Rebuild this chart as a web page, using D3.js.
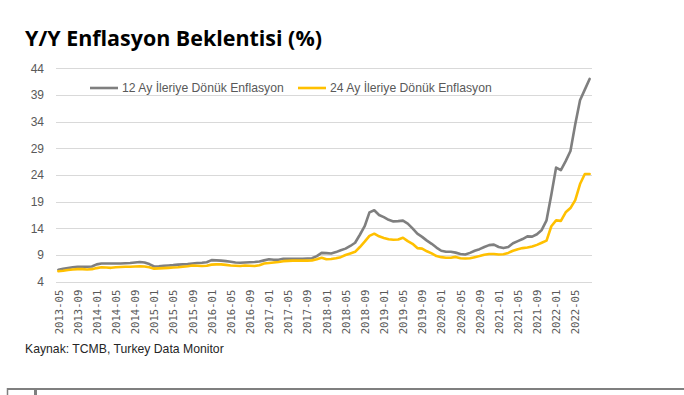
<!DOCTYPE html>
<html>
<head>
<meta charset="utf-8">
<script src="https://cdn.jsdelivr.net/npm/d3@7"></script>
<style>
	body { margin: 0; background: #fff; }
	svg { display: block; }
</style>
</head>
<body>
<svg id="chart" width="684" height="395"></svg>
<script>
// monthly, 2013-05 .. 2022-08
var firstMonth = new Date(2013, 4, 1);
var lastMonth = new Date(2022, 7, 1);

var series12 = [
	6.25, 6.4, 6.55, 6.7, 6.8, 6.8, 6.8, 6.85,
	7.25, 7.4, 7.4, 7.4, 7.4, 7.4, 7.45, 7.5, 7.6, 7.7, 7.6, 7.3,
	6.85, 6.9, 7.0, 7.05, 7.1, 7.2, 7.25, 7.3, 7.4, 7.5, 7.55, 7.65,
	8.05, 8.0, 7.95, 7.85, 7.75, 7.6, 7.55, 7.6, 7.65, 7.7, 7.8, 8.0,
	8.2, 8.1, 8.1, 8.3, 8.3, 8.3, 8.3, 8.3, 8.35, 8.4, 8.8, 9.4,
	9.35, 9.3, 9.55, 9.9, 10.2, 10.7, 11.3, 12.8, 14.4, 17.0, 17.4, 16.5,
	16.1, 15.6, 15.3, 15.35, 15.45, 14.9, 14.0, 13.0, 12.4, 11.7, 11.1, 10.4,
	9.8, 9.6, 9.6, 9.45, 9.2, 9.1, 9.4, 9.8, 10.1, 10.5, 10.85, 10.95,
	10.5, 10.3, 10.5, 11.2, 11.6, 12.0, 12.5, 12.45, 12.9, 13.7, 15.5, 20.3,
	25.4, 24.9, 26.6, 28.5, 33.5, 38.0, 40.0, 42.0
];

var series24 = [
	5.95, 6.05, 6.2, 6.3, 6.35, 6.35, 6.3, 6.35,
	6.55, 6.7, 6.65, 6.6, 6.7, 6.75, 6.8, 6.8, 6.85, 6.9, 6.85, 6.7,
	6.45, 6.5, 6.55, 6.6, 6.65, 6.7, 6.8, 6.9, 7.05, 7.0, 6.95, 7.0,
	7.2, 7.25, 7.25, 7.15, 7.05, 7.0, 6.95, 7.05, 7.0, 6.95, 7.1, 7.4,
	7.5, 7.6, 7.7, 7.85, 7.9, 7.95, 7.95, 7.95, 7.95, 8.0, 8.2, 8.5,
	8.2, 8.25, 8.4, 8.6, 9.0, 9.3, 9.6, 10.5, 11.5, 12.6, 13.0, 12.5,
	12.2, 11.95, 11.85, 11.9, 12.25, 11.6, 11.1, 10.3, 10.2, 9.7, 9.3, 8.8,
	8.6, 8.5, 8.5, 8.65, 8.4, 8.35, 8.4, 8.6, 8.8, 9.05, 9.2, 9.2,
	9.1, 9.15, 9.4, 9.8, 10.1, 10.3, 10.4, 10.6, 10.9, 11.3, 11.7, 14.4,
	15.5, 15.4, 17.0, 17.8, 19.3, 22.3, 24.2, 24.2
];

var seriesNames = ["12 Ay İleriye Dönük Enflasyon", "24 Ay İleriye Dönük Enflasyon"];
var seriesColors = ["#7f7f7f", "#ffc000"];

var yTicks = [4, 9, 14, 19, 24, 29, 34, 39, 44];
var xTickLabels = [
	"2013-05", "2013-09", "2014-01", "2014-05", "2014-09", "2015-01", "2015-05", "2015-09",
	"2016-01", "2016-05", "2016-09", "2017-01", "2017-05", "2017-09", "2018-01", "2018-05",
	"2018-09", "2019-01", "2019-05", "2019-09", "2020-01", "2020-05", "2020-09", "2021-01",
	"2021-05", "2021-09", "2022-01", "2022-05"
];

var fmt = d3.timeFormat("%Y-%m");
var months = d3.timeMonth.range(firstMonth, d3.timeMonth.offset(lastMonth, 1)).map(fmt);

var svg = d3.select("#chart");
var plot = {left: 56, right: 592, top: 68.3, bottom: 281.7};

var x = d3.scalePoint()
	.domain(months)
	.range([plot.left, plot.right])
	.padding(0.5);

var y = d3.scaleLinear()
	.domain([4, 44])
	.range([plot.bottom, plot.top]);

// fit a text node into a given width by shrinking/growing the font
var fitText = function(sel, width) {
	var node = sel.node();
	var size = parseFloat(sel.style("font-size"));
	var w = node.getComputedTextLength();
	sel.style("font-size", (size * width / w) + "px");
};

// title
svg.append("text")
	.attr("x", 25)
	.attr("y", 46)
	.style("font-family", "'Open Sans', sans-serif")
	.style("font-weight", 700)
	.style("font-size", "20px")
	.style("fill", "#000")
	.text("Y/Y Enflasyon Beklentisi (%)")
	.call(fitText, 297);

// gridlines
svg.append("g")
	.selectAll("line")
	.data(yTicks)
	.enter().append("line")
	.attr("x1", plot.left)
	.attr("x2", plot.right)
	.attr("y1", function(d) { return Math.round(y(d)) + 0.5; })
	.attr("y2", function(d) { return Math.round(y(d)) + 0.5; })
	.attr("stroke", "#d9d9d9")
	.attr("stroke-width", 1);

// y axis labels
var yAxis = svg.append("g")
	.attr("transform", "translate(" + (plot.left - 12) + ",0)")
	.call(d3.axisLeft(y).tickValues(yTicks).tickSize(0).tickPadding(0));
yAxis.select(".domain").remove();
yAxis.selectAll("text")
	.style("font-family", "'Liberation Sans', Arial, sans-serif")
	.style("font-size", "12px")
	.style("fill", "#595959");

// x axis labels, rotated
var xAxis = svg.append("g")
	.attr("transform", "translate(0," + (plot.bottom + 8) + ")")
	.call(d3.axisBottom(x).tickValues(xTickLabels).tickSize(0).tickPadding(0));
xAxis.select(".domain").remove();
xAxis.selectAll("text")
	.attr("transform", "rotate(-90)")
	.attr("x", 0)
	.attr("y", 0)
	.attr("dy", "0.35em")
	.style("text-anchor", "end")
	.style("font-family", "'DejaVu Sans Mono', monospace")
	.style("font-size", "10.6px")
	.style("fill", "#595959");

// lines
var line = d3.line()
	.x(function(d, i) { return x(months[i]); })
	.y(function(d) { return y(d); });

[series12, series24].forEach(function(values, i) {
	svg.append("path")
		.datum(values)
		.attr("fill", "none")
		.attr("stroke", seriesColors[i])
		.attr("stroke-width", 2.6)
		.attr("stroke-linejoin", "round")
		.attr("stroke-linecap", "round")
		.attr("d", line);
});

// legend
var legendPos = [{x: 90, w: 162}, {x: 298, w: 162}];
seriesNames.forEach(function(name, i) {
	var g = svg.append("g").attr("transform", "translate(" + legendPos[i].x + ",88)");
	g.append("line")
		.attr("x1", 0).attr("x2", 28)
		.attr("stroke", seriesColors[i])
		.attr("stroke-width", 2.6);
	g.append("text")
		.attr("x", 32)
		.attr("dy", "0.35em")
		.style("font-family", "'Liberation Sans', Arial, sans-serif")
		.style("font-size", "12px")
		.style("fill", "#595959")
		.text(name)
		.call(fitText, legendPos[i].w);
});

// source
svg.append("text")
	.attr("x", 25)
	.attr("y", 353)
	.style("font-family", "'Liberation Sans', Arial, sans-serif")
	.style("font-size", "12px")
	.style("fill", "#262626")
	.text("Kaynak: TCMB, Turkey Data Monitor")
	.call(fitText, 199);

// page rule at the bottom
svg.append("line")
	.attr("x1", 7).attr("x2", 684)
	.attr("y1", 389).attr("y2", 389)
	.attr("stroke", "#7f7f7f").attr("stroke-width", 2);
svg.append("line")
	.attr("x1", 7.5).attr("x2", 7.5)
	.attr("y1", 388).attr("y2", 395)
	.attr("stroke", "#7f7f7f").attr("stroke-width", 1.5);
svg.append("line")
	.attr("x1", 35.5).attr("x2", 35.5)
	.attr("y1", 388).attr("y2", 395)
	.attr("stroke", "#7f7f7f").attr("stroke-width", 3);
</script>
</body>
</html>
